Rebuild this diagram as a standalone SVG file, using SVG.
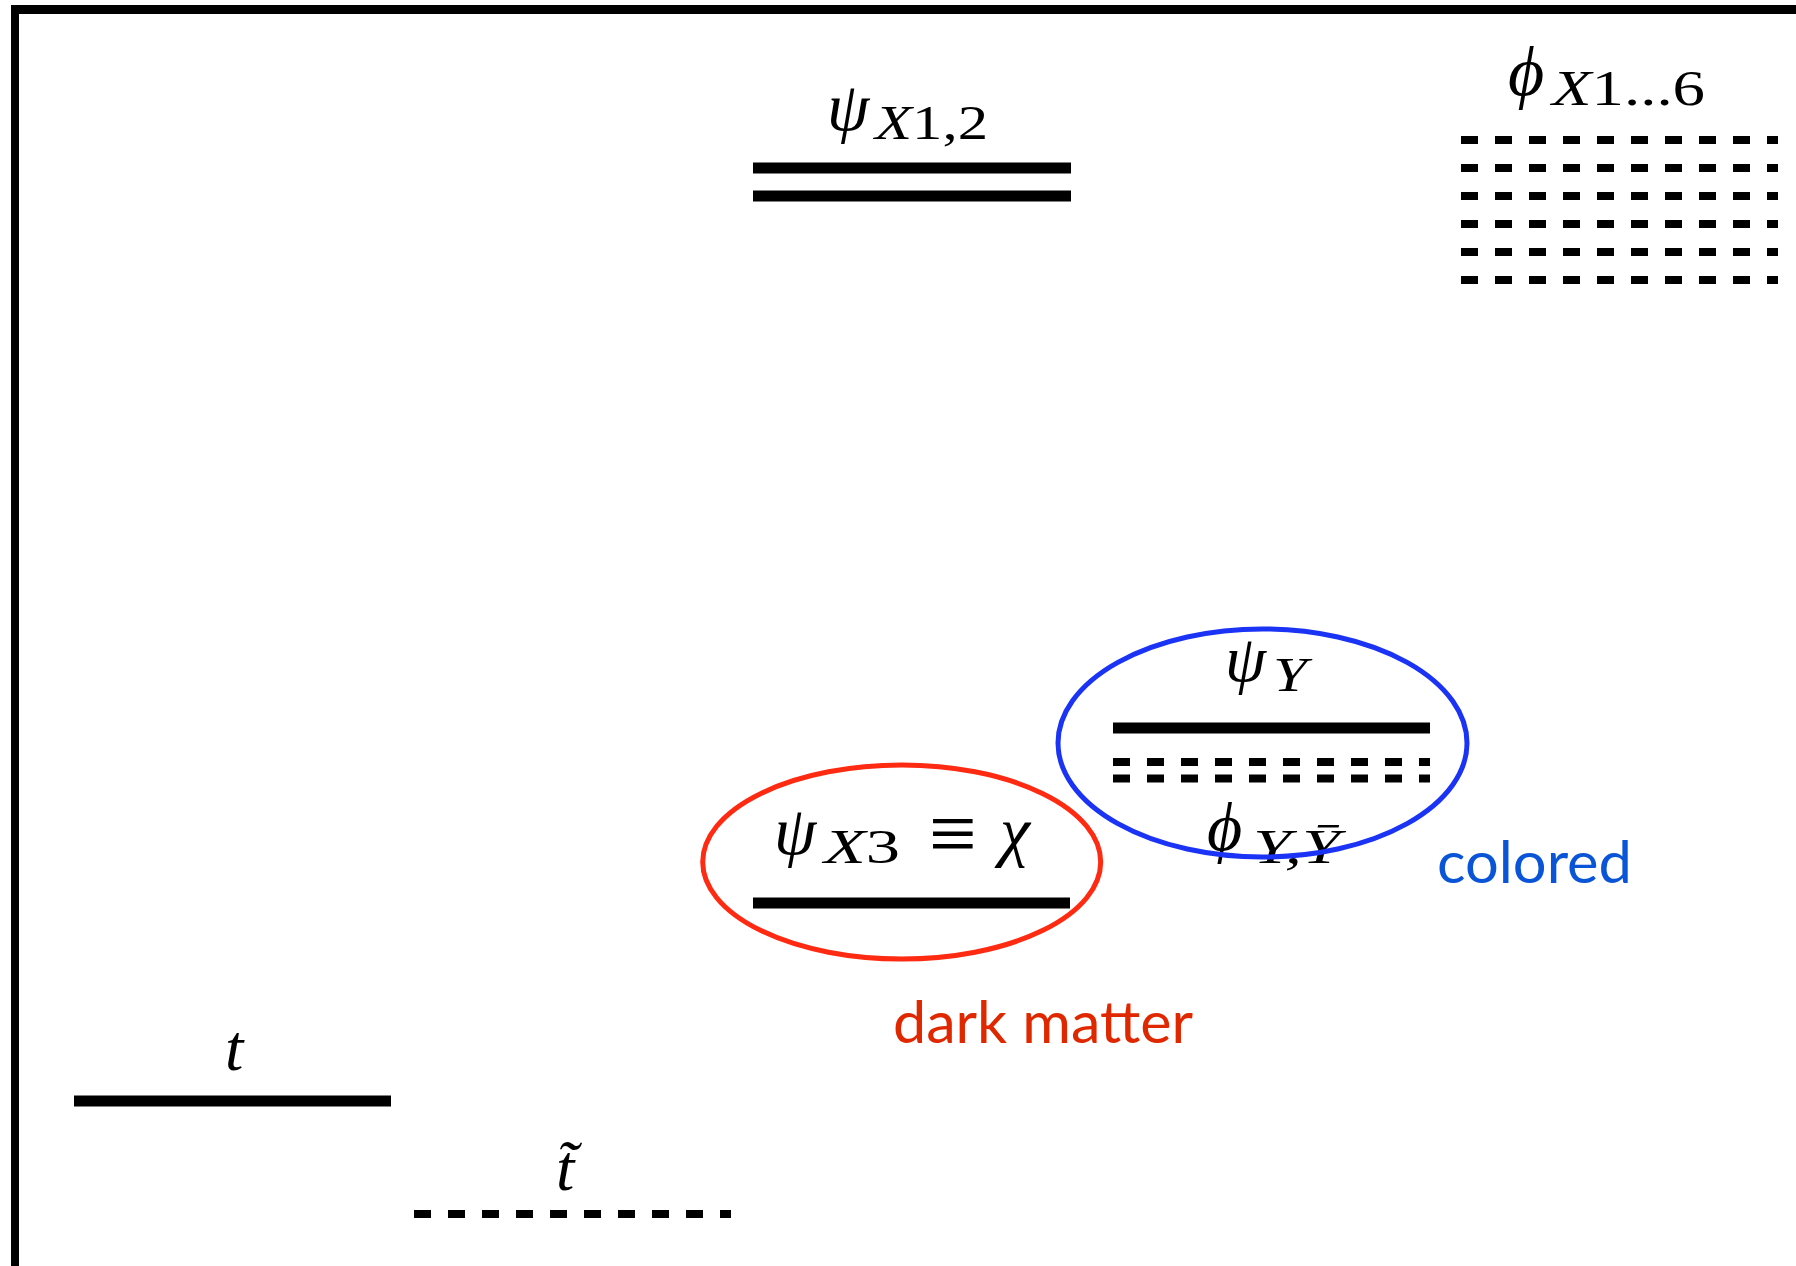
<svg xmlns="http://www.w3.org/2000/svg" width="1796" height="1266" viewBox="0 0 1796 1266">
<style>
.solid{stroke:#000;stroke-width:11;fill:none}
.dash{stroke:#000;stroke-width:8;stroke-dasharray:17 17;fill:none}
.m{font-family:"Liberation Serif","DejaVu Serif",serif;font-style:italic;fill:#000}
.r{font-style:normal}
.lab{font-family:Lato,"Open Sans",sans-serif}
</style>
<rect width="1796" height="1266" fill="#fff"/>
<g id="frame">
<rect x="11" y="5" width="1785" height="9" fill="#000"/>
<rect x="11" y="5" width="8" height="1261" fill="#000"/>
</g>
<g id="connectors"/>
<g id="psiX12">
<line class="solid" x1="753" y1="168" x2="1071" y2="168"/>
<line class="solid" x1="753" y1="196" x2="1071" y2="196"/>
<text class="m" x="827" y="130" font-size="68">ψ</text>
<text class="m" x="875" y="139" font-size="48" textLength="113" lengthAdjust="spacingAndGlyphs">X<tspan class="r">1,2</tspan></text>
</g>
<g id="phiX16">
<line class="dash" x1="1461" y1="140" x2="1778" y2="140"/>
<line class="dash" x1="1461" y1="168" x2="1778" y2="168"/>
<line class="dash" x1="1461" y1="196" x2="1778" y2="196"/>
<line class="dash" x1="1461" y1="224" x2="1778" y2="224"/>
<line class="dash" x1="1461" y1="252" x2="1778" y2="252"/>
<line class="dash" x1="1461" y1="280" x2="1778" y2="280"/>
<text class="m" x="1508" y="95" font-size="70">ϕ</text>
<text class="m" x="1552" y="105" font-size="50" textLength="153" lengthAdjust="spacingAndGlyphs">X<tspan class="r">1...6</tspan></text>
</g>
<g id="colored">
<line class="solid" x1="1113" y1="728" x2="1430" y2="728"/>
<line class="dash" x1="1113" y1="762" x2="1430" y2="762"/>
<line class="dash" x1="1113" y1="778.5" x2="1430" y2="778.5"/>
<text class="m" x="1225" y="681" font-size="66">ψ</text>
<text class="m" x="1273" y="691" font-size="48" textLength="34" lengthAdjust="spacingAndGlyphs">Y</text>
<text class="m" x="1207" y="850" font-size="68">ϕ</text>
<text class="m" x="1253" y="863" font-size="48" textLength="87" lengthAdjust="spacingAndGlyphs">Y,Ȳ</text>
<ellipse cx="1262.5" cy="743" rx="204.5" ry="114" fill="none" stroke="#1a33f5" stroke-width="5"/>
<text class="lab" x="1437" y="883" font-size="58" fill="#0a55d7" textLength="195" lengthAdjust="spacingAndGlyphs">colored</text>
</g>
<g id="darkmatter">
<line class="solid" x1="753" y1="903" x2="1070" y2="903"/>
<text class="m" x="774" y="854" font-size="68">ψ</text>
<text class="m" x="824" y="863" font-size="48" textLength="76" lengthAdjust="spacingAndGlyphs">X<tspan class="r">3</tspan></text>
<text class="m r" x="929" y="863" font-size="88" textLength="48" lengthAdjust="spacingAndGlyphs">≡</text>
<text class="m" x="1000" y="854" font-size="68">χ</text>
<ellipse cx="901.7" cy="862" rx="199" ry="97" fill="none" stroke="#ff2a12" stroke-width="5"/>
<text class="lab" x="893" y="1043" font-size="58" fill="#e02800" textLength="300" lengthAdjust="spacingAndGlyphs">dark matter</text>
</g>
<g id="top">
<line class="solid" x1="74" y1="1101" x2="391" y2="1101"/>
<text class="m" x="225" y="1070" font-size="66">t</text>
</g>
<g id="stop">
<line class="dash" x1="414" y1="1214" x2="731" y2="1214" stroke-width="9"/>
<text class="m" x="556" y="1190" font-size="66">t̃</text>
</g>
</svg>
